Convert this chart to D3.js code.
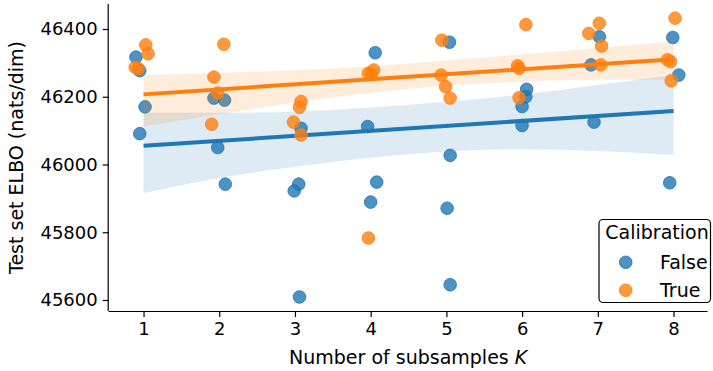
<!DOCTYPE html>
<meta charset="utf-8">
<script src="https://d3js.org/d3.v7.min.js"></script>
<style>
  body { margin: 0; background: #fff; }
  text { font-family: "DejaVu Sans", sans-serif; fill: #000; }
</style>
<div id="my_dataviz"></div>
<script>
// scatter points, x = K with jitter, y = ELBO
var falseK = [0.90, 0.95, 1.02, 0.95, 1.93, 2.07, 1.98, 2.08, 3.08, 3.05, 2.99, 3.06,
              4.06, 3.96, 4.08, 4.00, 5.04, 5.05, 5.01, 5.05, 6.06, 6.05, 6.00, 6.00,
              7.02, 6.91, 6.95, 7.99, 8.07, 7.95];
var falseElbo = [46317, 46277, 46170, 46091, 46196, 46190, 46050, 45942, 46107, 45942, 45922, 45609,
                 46330, 46112, 45948, 45889, 46361, 46027, 45871, 45645, 46222, 46200, 46171, 46115,
                 46377, 46294, 46125, 46375, 46264, 45946];
var trueK = [1.03, 1.06, 0.89, 0.93, 2.06, 1.93, 1.98, 1.90, 3.08, 3.06, 2.98, 3.08,
             3.97, 4.04, 4.01, 3.97, 4.94, 4.93, 4.99, 5.05, 6.05, 5.94, 5.96, 5.96,
             7.02, 6.88, 7.05, 7.04, 8.02, 7.92, 7.96, 7.97];
var trueElbo = [46353, 46327, 46287, 46283, 46355, 46258, 46211, 46119, 46186, 46169, 46125, 46087,
                46269, 46279, 46266, 45783, 46367, 46264, 46230, 46196, 46413, 46291, 46284, 46197,
                46417, 46387, 46350, 46294, 46432, 46309, 46304, 46247];

// regression fit and confidence band read at K = 1..8
var kGrid = [1, 2, 3, 4, 5, 6, 7, 8];
var falseFit = [46055, 46158];   // at K=1 and K=8
var trueFit = [46207, 46311];
var falseLo = [45915, 45960, 45993, 46020, 46038, 46045, 46040, 46028];
var falseHi = [46153, 46153, 46156, 46168, 46185, 46207, 46235, 46264];
var trueLo = [46112, 46148, 46183, 46212, 46233, 46245, 46250, 46250];
var trueHi = [46264, 46270, 46278, 46290, 46307, 46325, 46344, 46363];

var xTicks = [1, 2, 3, 4, 5, 6, 7, 8];
var yTicks = [45600, 45800, 46000, 46200, 46400];

var width = 713, height = 371;
var svg = d3.select("#my_dataviz").append("svg")
    .attr("width", width).attr("height", height);

var x = d3.scaleLinear().domain([0.54, 8.45]).range([108.7, 707.6]);
var y = d3.scaleLinear().domain([45567.5, 46473.8]).range([311, 4]);

var groups = [
  {name: "False", color: "#1f77b4", k: falseK, v: falseElbo, fit: falseFit, lo: falseLo, hi: falseHi},
  {name: "True", color: "#ff7f0e", k: trueK, v: trueElbo, fit: trueFit, lo: trueLo, hi: trueHi}
];

var area = d3.area()
    .x(function(d) { return x(d.k); })
    .y0(function(d) { return y(d.lo); })
    .y1(function(d) { return y(d.hi); })
    .curve(d3.curveMonotoneX);

groups.forEach(function(g) {
  var pts = g.k.map(function(k, i) { return {k: k, v: g.v[i]}; });
  svg.append("g").selectAll("circle")
    .data(pts).enter().append("circle")
      .attr("cx", function(d) { return x(d.k); })
      .attr("cy", function(d) { return y(d.v); })
      .attr("r", 6.3)
      .style("fill", g.color).style("fill-opacity", 0.8)
      .style("stroke", g.color).style("stroke-opacity", 0.8).style("stroke-width", 1);

  var band = kGrid.map(function(k, i) { return {k: k, lo: g.lo[i], hi: g.hi[i]}; });
  svg.append("path").datum(band)
    .attr("d", area)
    .style("fill", g.color).style("fill-opacity", 0.15);

  svg.append("line")
    .attr("x1", x(kGrid[0])).attr("y1", y(g.fit[0]))
    .attr("x2", x(kGrid[kGrid.length - 1])).attr("y2", y(g.fit[1]))
    .style("stroke", g.color).style("stroke-width", 4);
});

// axes
var xAxis = svg.append("g")
  .attr("transform", "translate(0,311)")
  .call(d3.axisBottom(x).tickValues(xTicks).tickSize(6).tickPadding(5));
var yAxis = svg.append("g")
  .attr("transform", "translate(108.7,0)")
  .call(d3.axisLeft(y).tickValues(yTicks).tickSize(6).tickPadding(5).tickFormat(d3.format("d")));
[xAxis, yAxis].forEach(function(a) {
  a.selectAll("text").style("font-size", "18px").style("font-family", "DejaVu Sans");
  a.selectAll("line").style("stroke", "#000").style("stroke-width", 1.2);
  a.select(".domain").style("stroke", "#000").style("stroke-width", 1.2);
});
// despine: keep only spine, remove the outer tick caps
xAxis.select(".domain").attr("d", "M108.7,0.5H707.6");
yAxis.select(".domain").attr("d", "M-0.5,311V4");

// axis titles
var xt = svg.append("text")
  .attr("x", (108.7 + 707.6) / 2).attr("y", 364)
  .attr("text-anchor", "middle").style("font-size", "19px");
xt.append("tspan").text("Number of subsamples ");
xt.append("tspan").style("font-style", "italic").text("K");

svg.append("text")
  .attr("transform", "translate(23," + ((4 + 311) / 2) + ") rotate(-90)")
  .attr("text-anchor", "middle").style("font-size", "19px")
  .text("Test set ELBO (nats/dim)");

// legend
var lg = svg.append("g");
lg.append("rect")
  .attr("x", 599).attr("y", 219.5).attr("width", 111.5).attr("height", 83)
  .attr("rx", 4).attr("ry", 4)
  .style("fill", "#fff").style("stroke", "#000").style("stroke-width", 1.2);
lg.append("text").attr("x", 657).attr("y", 239)
  .attr("text-anchor", "middle").style("font-size", "19px").text("Calibration");
groups.forEach(function(g, i) {
  var cy = 262.3 + i * 28;
  lg.append("circle").attr("cx", 625.7).attr("cy", cy).attr("r", 6.3)
    .style("fill", g.color).style("fill-opacity", 0.8)
    .style("stroke", g.color).style("stroke-opacity", 0.8);
  lg.append("text").attr("x", 660).attr("y", cy + 7)
    .style("font-size", "19px").text(g.name);
});
</script>
